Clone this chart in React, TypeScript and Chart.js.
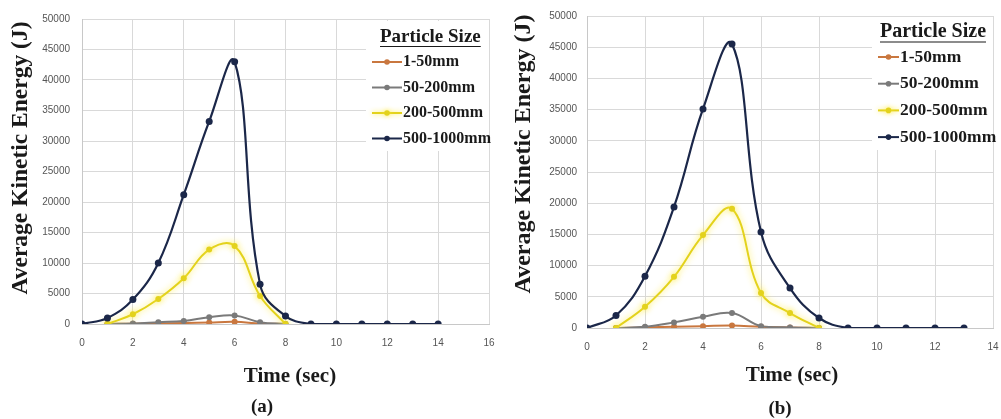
import React, { useEffect, useRef } from "react";
import { Chart, registerables } from "chart.js";

Chart.register(...registerables);

// ---------- data ----------
const SERIES_LABELS = ["1-50mm", "50-200mm", "200-500mm", "500-1000mm"];
const SERIES_COLORS = ["#c9773f", "#7a7a7a", "#e3d21c", "#1b2749"];

// Panel (a)
const TIME_A_LARGE = [0, 1, 2, 3, 4, 5, 6, 7, 8, 9, 10, 11, 12, 13, 14];
const TIME_A_SMALL = [1, 2, 3, 4, 5, 6, 7, 8];
const A_1_50 = [0, 50, 100, 150, 250, 350, 100, 0];
const A_50_200 = [0, 100, 300, 500, 1100, 1400, 300, 0];
const A_200_500 = [0, 1600, 4100, 7500, 12200, 12800, 4600, 0];
const A_500_1000 = [0, 1000, 4000, 10000, 21200, 33200, 43000, 6500, 1300, 0, 0, 0, 0, 0, 0];

// Panel (b)
const TIME_B_LARGE = [0, 1, 2, 3, 4, 5, 6, 7, 8, 9, 10, 11, 12, 13];
const TIME_B_SMALL = [1, 2, 3, 4, 5, 6, 7, 8];
const B_1_50 = [0, 100, 200, 300, 400, 200, 100, 0];
const B_50_200 = [0, 200, 900, 1800, 2400, 300, 100, 0];
const B_200_500 = [0, 3400, 8200, 14900, 19100, 5600, 2400, 0];
const B_500_1000 = [0, 2000, 8300, 19400, 35100, 45500, 15400, 6400, 1600, 0, 0, 0, 0, 0];

const Y_MAX = 50000;
const Y_STEP = 5000;
const X_STEP = 2;

const Y_TITLE = "Average Kinetic Energy (J)";
const X_TITLE = "Time (sec)";
const LEGEND_TITLE = "Particle Size";

// ---------- plugin for titles / legend ----------
const panelPlugin = {
  id: "panelText",
  beforeDatasetDraw(chart: any, args: any) {
    const ds = chart.data.datasets[args.index];
    if (ds.label === "200-500mm") {
      chart.ctx.shadowColor = "rgba(255,235,60,0.9)";
      chart.ctx.shadowBlur = 6;
    }
  },
  afterDatasetDraw(chart: any) {
    chart.ctx.shadowColor = "rgba(0,0,0,0)";
    chart.ctx.shadowBlur = 0;
  },
  afterDraw(chart: any, _args: any, o: any) {
    const ctx = chart.ctx;
    ctx.save();
    ctx.fillStyle = "#1a1a1a";
    ctx.textAlign = "center";
    ctx.textBaseline = "middle";

    // y title
    ctx.save();
    ctx.translate(o.yTitle.x, o.yTitle.y);
    ctx.rotate(-Math.PI / 2);
    ctx.font = `bold ${o.yTitle.size}px "Liberation Serif", serif`;
    ctx.fillText(Y_TITLE, 0, 0);
    ctx.restore();

    // x title
    ctx.font = `bold ${o.xTitle.size}px "Liberation Serif", serif`;
    ctx.fillText(X_TITLE, o.xTitle.x, o.xTitle.y);

    // caption
    ctx.font = `bold ${o.caption.size}px "Liberation Serif", serif`;
    ctx.fillText(o.caption.text, o.caption.x, o.caption.y);

    // legend
    const L = o.legend;
    ctx.fillStyle = "#ffffff";
    ctx.fillRect(L.boxX, L.boxY, L.boxW, L.boxH);
    ctx.fillStyle = "#1a1a1a";
    ctx.font = `bold ${L.titleSize}px "Liberation Serif", serif`;
    ctx.textAlign = "left";
    ctx.fillText(LEGEND_TITLE, L.titleX, L.titleY);
    const tw = ctx.measureText(LEGEND_TITLE).width;
    ctx.strokeStyle = "#1a1a1a";
    ctx.lineWidth = 1.2;
    ctx.beginPath();
    ctx.moveTo(L.titleX, L.titleY + L.titleSize * 0.5);
    ctx.lineTo(L.titleX + tw, L.titleY + L.titleSize * 0.5);
    ctx.stroke();

    chart.data.datasets.forEach((ds: any, i: number) => {
      const y = L.rowY0 + i * L.rowGap;
      ctx.strokeStyle = ds.borderColor;
      ctx.lineWidth = 2;
      if (ds.label === "200-500mm") {
        ctx.shadowColor = "rgba(255,235,60,0.9)";
        ctx.shadowBlur = 5;
      }
      ctx.beginPath();
      ctx.moveTo(L.lineX0, y);
      ctx.lineTo(L.lineX1, y);
      ctx.stroke();
      ctx.fillStyle = ds.borderColor;
      ctx.beginPath();
      ctx.arc((L.lineX0 + L.lineX1) / 2, y, 2.8, 0, Math.PI * 2);
      ctx.fill();
      ctx.shadowBlur = 0;
      ctx.shadowColor = "rgba(0,0,0,0)";
      ctx.fillStyle = "#1a1a1a";
      ctx.font = `bold ${L.textSize}px "Liberation Serif", serif`;
      ctx.fillText(ds.label, L.textX, y);
    });
    ctx.restore();
  },
};

type PanelProps = {
  left: number;
  width: number;
  xMax: number;
  xs: number[][];
  ys: number[][];
  pad: { left: number; right: number; top: number; bottom: number };
  yAxisWidth: number;
  xAxisHeight: number;
  yTickPad: number;
  text: any;
};

function Panel(p: PanelProps) {
  const ref = useRef<HTMLCanvasElement | null>(null);
  useEffect(() => {
    if (!ref.current) return;
    const datasets = SERIES_LABELS.map((label, i) => ({
      label,
      data: p.xs[i].map((x, j) => ({ x, y: p.ys[i][j] })),
      borderColor: SERIES_COLORS[i],
      backgroundColor: SERIES_COLORS[i],
      borderWidth: i === 3 ? 2.2 : 2,
      pointRadius: i === 3 ? 3.5 : 3,
      pointBorderWidth: 0,
      pointHoverRadius: 3,
      tension: 0.4,
      fill: false,
      order: 4 - i,
    }));
    const tickFont = { family: '"Liberation Sans", sans-serif', size: 10 };
    const chart = new Chart(ref.current, {
      type: "line",
      data: { datasets },
      plugins: [panelPlugin],
      options: {
        animation: false,
        responsive: false,
        layout: { padding: p.pad },
        scales: {
          x: {
            type: "linear",
            min: 0,
            max: p.xMax,
            ticks: {
              stepSize: X_STEP,
              color: "#555555",
              font: tickFont,
              padding: 0,
              maxRotation: 0,
              callback: (v: any) => String(v),
            },
            grid: {
              color: "#d9d9d9",
              drawTicks: true,
              tickLength: 13,
              tickColor: "rgba(0,0,0,0)",
            },
            border: { color: "#c8c8c8" },
            afterFit: (s: any) => {
              s.height = p.xAxisHeight;
            },
          },
          y: {
            min: 0,
            max: Y_MAX,
            ticks: {
              stepSize: Y_STEP,
              color: "#555555",
              font: tickFont,
              padding: p.yTickPad,
              callback: (v: any) => String(v),
            },
            grid: { color: "#d9d9d9", drawTicks: false },
            border: { color: "#c8c8c8" },
            afterFit: (s: any) => {
              s.width = p.yAxisWidth;
            },
          },
        },
        plugins: {
          legend: { display: false },
          tooltip: { enabled: false },
          panelText: p.text,
        } as any,
      },
    } as any);
    return () => chart.destroy();
  }, []);
  return (
    <canvas
      ref={ref}
      width={p.width}
      height={419}
      style={{ position: "absolute", left: p.left, top: 0, width: p.width, height: 419 }}
    />
  );
}

export default function App() {
  return (
    <div style={{ position: "absolute", left: 0, top: 0, width: 1001, height: 419, background: "#ffffff" }}>
      <Panel
        left={0}
        width={500}
        xMax={16}
        xs={[TIME_A_SMALL, TIME_A_SMALL, TIME_A_SMALL, TIME_A_LARGE]}
        ys={[A_1_50, A_50_200, A_200_500, A_500_1000]}
        pad={{ left: 0, right: 11, top: 19, bottom: 0 }}
        yAxisWidth={82}
        xAxisHeight={95}
        yTickPad={12}
        text={{
          yTitle: { x: 21, y: 158, size: 23.5 },
          xTitle: { x: 290, y: 377, size: 21 },
          caption: { text: "(a)", x: 262, y: 407, size: 19 },
          legend: {
            boxX: 366, boxY: 21, boxW: 123, boxH: 130,
            titleX: 380, titleY: 37, titleSize: 19,
            rowY0: 62, rowGap: 25.5,
            lineX0: 372, lineX1: 402, textX: 403, textSize: 16,
          },
        }}
      />
      <Panel
        left={500}
        width={501}
        xMax={14}
        xs={[TIME_B_SMALL, TIME_B_SMALL, TIME_B_SMALL, TIME_B_LARGE]}
        ys={[B_1_50, B_50_200, B_200_500, B_500_1000]}
        pad={{ left: 0, right: 8, top: 16, bottom: 0 }}
        yAxisWidth={87}
        xAxisHeight={91}
        yTickPad={10}
        text={{
          yTitle: { x: 24, y: 154, size: 24 },
          xTitle: { x: 292, y: 376, size: 21 },
          caption: { text: "(b)", x: 280, y: 409, size: 19 },
          legend: {
            boxX: 372, boxY: 17, boxW: 121, boxH: 133,
            titleX: 380, titleY: 32, titleSize: 20,
            rowY0: 57, rowGap: 26.7,
            lineX0: 378, lineX1: 399, textX: 400, textSize: 17.5,
          },
        }}
      />
    </div>
  );
}
